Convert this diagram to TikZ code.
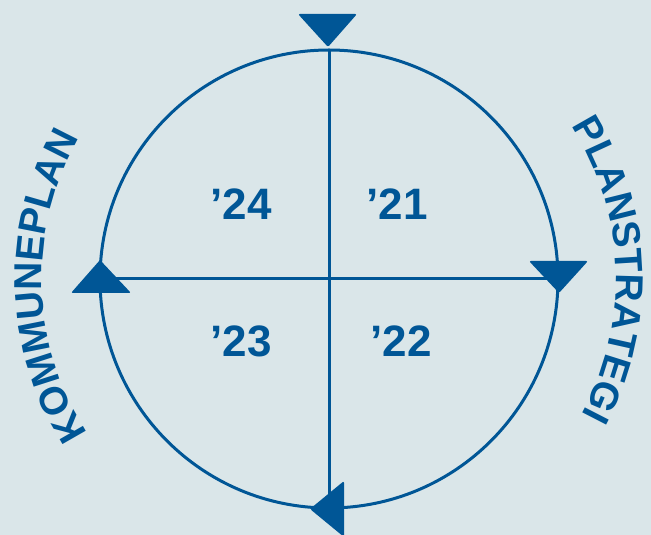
\documentclass[tikz,border=0pt]{standalone}
\usepackage{fontspec}
\setmainfont{Liberation Sans}
\usetikzlibrary{decorations.text}
\definecolor{bg}{RGB}{218,230,233}
\definecolor{navy}{RGB}{0,86,150}
\newcommand{\yearfont}{\bfseries\fontsize{44}{44}\selectfont}
\newcommand{\arcfont}{\bfseries\fontsize{39}{39}\selectfont}
\begin{document}
\begin{tikzpicture}[x=1pt,y=1pt,
  ring/.style={draw=navy, line width=3pt, circle, minimum size=458pt, inner sep=0pt, outer sep=0pt},
  axis/.style={draw=navy, line width=3pt},
  tri/.style={fill=navy, rounded corners=2pt},
  year/.style={text=navy, font=\yearfont, inner sep=0pt},
]
\fill[bg] (0,0) rectangle (651,535);
\useasboundingbox (0,0) rectangle (651,535);
\coordinate (c) at (329,256);
\node[ring] (C) at (c) {};
\draw[axis] (C.north) -- (C.south);
\draw[axis] (C.west) -- (C.east);
% triangles
\fill[tri] (298,521) -- (357,521) -- (328,488) -- cycle;
\fill[tri] (529,274) -- (588,274) -- (559,242) -- cycle;
\fill[tri] (71,242) -- (131,242) -- (100,275) -- cycle;
\fill[tri] (344,54) -- (344,-2) -- (310,26) -- cycle;
% years
\node[year] (y24) at (241,331) {’24};
\node[year] (y21) at (397,331) {’21};
\node[year] (y23) at (241,194) {’23};
\node[year] (y22) at (401,194) {’22};
% arc texts
\path[decorate, decoration={text along path, text align=center,
  text color=navy, text={|\arcfont|PLANSTRATEGI}}]
  (c) ++(72:287) arc (72:-68:287);
\path[decorate, decoration={text along path, text align=center,
  text color=navy, text={|\arcfont|KOMMUNEPLAN}}]
  (c) ++(251.5:287) arc (251.5:111.5:287);
\end{tikzpicture}
\end{document}
